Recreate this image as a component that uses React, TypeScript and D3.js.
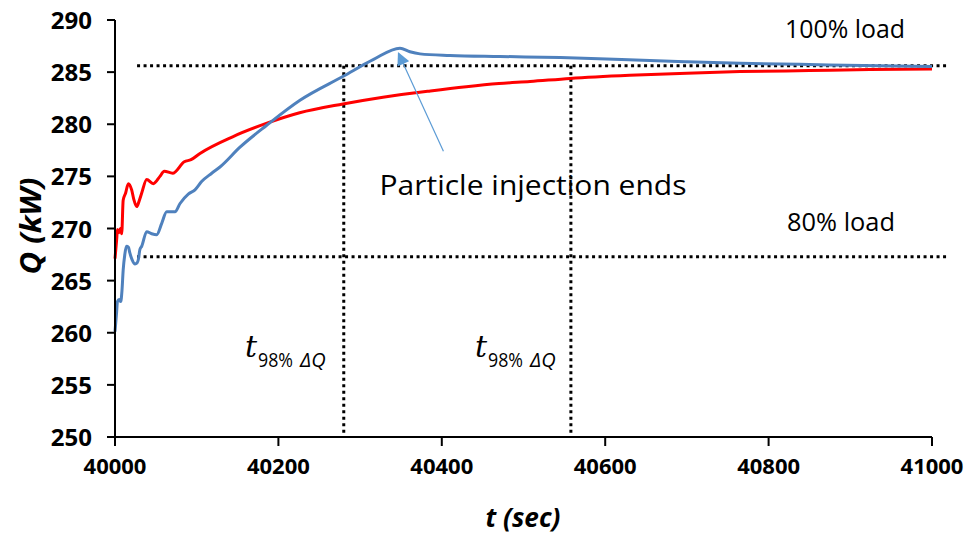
import React from "react";
import * as d3 from "d3";

const xTicks = [40000, 40200, 40400, 40600, 40800, 41000];
const yTicks = [250, 255, 260, 265, 270, 275, 280, 285, 290];

const blueT = [0, 2, 3, 5, 7, 8.5, 10, 12, 14, 16.5, 18, 21, 24.5, 27, 28.5, 30.5, 32.7, 38.8, 44.9, 51, 57.2, 63.3, 73.4, 79.6, 89.7, 97.9, 106, 118.4, 128.5, 153, 185.7, 226.4, 279.4, 316, 348.8, 361, 373.3, 410, 471, 545, 620, 700, 765, 838, 936, 1000];
const blueQ = [260.1, 262, 263, 263.2, 263, 264, 266, 267.5, 268.3, 268.2, 267.7, 267.0, 266.6, 266.7, 267, 268, 268.3, 269.7, 269.5, 269.4, 270.5, 271.6, 271.6, 272.4, 273.3, 273.7, 274.5, 275.3, 275.9, 277.8, 279.9, 282.3, 284.6, 286.2, 287.3, 286.95, 286.75, 286.6, 286.5, 286.4, 286.2, 286.0, 285.85, 285.75, 285.6, 285.55];

const redT = [0, 2, 3, 5, 6.7, 8.2, 10, 13, 16.3, 20.4, 23, 26.6, 29.4, 32.7, 38.8, 46.9, 55, 60.3, 70.6, 84.8, 93, 104, 144, 186, 226, 279, 328, 386, 430, 470, 508, 557, 630, 700, 765, 850, 924, 1000];
const redQ = [267.1, 268.9, 269.9, 269.6, 270.0, 269.5, 272.7, 273.4, 274.3, 273.7, 272.8, 272.1, 272.6, 273.4, 274.7, 274.3, 275.0, 275.5, 275.3, 276.4, 276.6, 277.2, 278.8, 280.1, 281.1, 281.95, 282.6, 283.2, 283.6, 283.9, 284.1, 284.4, 284.7, 284.9, 285.05, 285.15, 285.25, 285.3];

const level100 = 285.6;
const level80 = 267.3;
const t98 = [40280, 40558];
const refLineStart = 40027;
const refLineEnd = 41020;

export default function App() {
  const W = 980, H = 540;
  const x = d3.scaleLinear().domain([40000, 41000]).range([115, 932]);
  const y = d3.scaleLinear().domain([250, 290]).range([437, 20]);

  const line = d3.line<[number, number]>()
    .x(d => x(40000 + d[0]))
    .y(d => y(d[1]))
    .curve(d3.curveMonotoneX);

  const blue = line(blueT.map((t, i) => [t, blueQ[i]]) as [number, number][]) || "";
  const red = line(redT.map((t, i) => [t, redQ[i]]) as [number, number][]) || "";

  const font = "'Open Sans', 'Liberation Sans', Arial, sans-serif";
  const dot = "3,3.5";

  const arrowTip: [number, number] = [x(40347), y(287.0) + 2];
  const arrowTail: [number, number] = [x(40402), y(277.4)];

  return (
    <div style={{ position: "absolute", left: 0, top: 0 }}>
      <svg width={W} height={H} style={{ display: "block", background: "#fff" }}>
        <defs>
          <marker id="ah" viewBox="0 0 10 10" refX="9" refY="5" markerWidth="15" markerHeight="13" orient="auto" markerUnits="userSpaceOnUse">
            <path d="M0,0 L10,5 L0,10 z" fill="#5B9BD5" />
          </marker>
        </defs>

        {/* reference dotted lines */}
        <line x1={x(refLineStart)} x2={x(refLineEnd)} y1={y(level100)} y2={y(level100)} stroke="#000" strokeWidth={3} strokeDasharray={dot} />
        <line x1={x(refLineStart)} x2={x(refLineEnd)} y1={y(level80)} y2={y(level80)} stroke="#000" strokeWidth={3} strokeDasharray={dot} />
        {t98.map(t => (
          <line key={t} x1={x(t)} x2={x(t)} y1={y(level100)} y2={y(250)} stroke="#000" strokeWidth={3} strokeDasharray={dot} />
        ))}

        {/* series */}
        <path d={red} fill="none" stroke="#FF0000" strokeWidth={3} />
        <path d={blue} fill="none" stroke="#4F81BD" strokeWidth={3} />

        {/* axes */}
        <line x1={x(40000)} x2={x(40000)} y1={y(290)} y2={y(250)} stroke="#000" strokeWidth={2} />
        <line x1={x(40000)} x2={x(41000)} y1={y(250)} y2={y(250)} stroke="#000" strokeWidth={2} />
        {yTicks.map(v => (
          <g key={v}>
            <line x1={x(40000) - 8} x2={x(40000)} y1={y(v)} y2={y(v)} stroke="#000" strokeWidth={2} />
            <text x={92} y={y(v) + 9} textAnchor="end" fontFamily={font} fontWeight="bold" fontSize={24} fill="#000">{v}</text>
          </g>
        ))}
        {xTicks.map(v => (
          <g key={v}>
            <line x1={x(v)} x2={x(v)} y1={y(250)} y2={y(250) + 9} stroke="#000" strokeWidth={2} />
            <text x={x(v)} y={474} textAnchor="middle" fontFamily={font} fontWeight="bold" fontSize={22} fill="#000">{v}</text>
          </g>
        ))}

        {/* axis titles */}
        <text transform="translate(41,226) rotate(-90)" textAnchor="middle" fontFamily={font} fontWeight="bold" fontStyle="italic" fontSize={28} textLength={97} lengthAdjust="spacingAndGlyphs" fill="#000">Q (kW)</text>
        <text x={523} y={527} textAnchor="middle" fontFamily={font} fontWeight="bold" fontStyle="italic" fontSize={26} textLength={75} lengthAdjust="spacingAndGlyphs" fill="#000">t (sec)</text>

        {/* annotations */}
        <text x={845} y={38} textAnchor="middle" fontFamily={font} fontSize={25} textLength={120} lengthAdjust="spacingAndGlyphs" fill="#000">100% load</text>
        <text x={841} y={231} textAnchor="middle" fontFamily={font} fontSize={25} textLength={108} lengthAdjust="spacingAndGlyphs" fill="#000">80% load</text>
        <text x={533} y={195} textAnchor="middle" fontFamily={font} fontSize={28} textLength={307} lengthAdjust="spacingAndGlyphs" fill="#000">Particle injection ends</text>
        <line x1={arrowTail[0]} y1={arrowTail[1]} x2={arrowTip[0]} y2={arrowTip[1]} stroke="#5B9BD5" strokeWidth={1.2} markerEnd="url(#ah)" />

        {[245, 475].map((px, i) => (
          <g key={i} fill="#000">
            <text x={px} y={357} fontFamily="'DejaVu Serif', serif" fontStyle="italic" fontSize={30}>t</text>
            <text x={px + 13} y={367} fontFamily={font} fontSize={20} textLength={35} lengthAdjust="spacingAndGlyphs">98%</text>
            <text x={px + 55} y={367} fontFamily={font} fontStyle="italic" fontSize={20}>ΔQ</text>
          </g>
        ))}
      </svg>
    </div>
  );
}
